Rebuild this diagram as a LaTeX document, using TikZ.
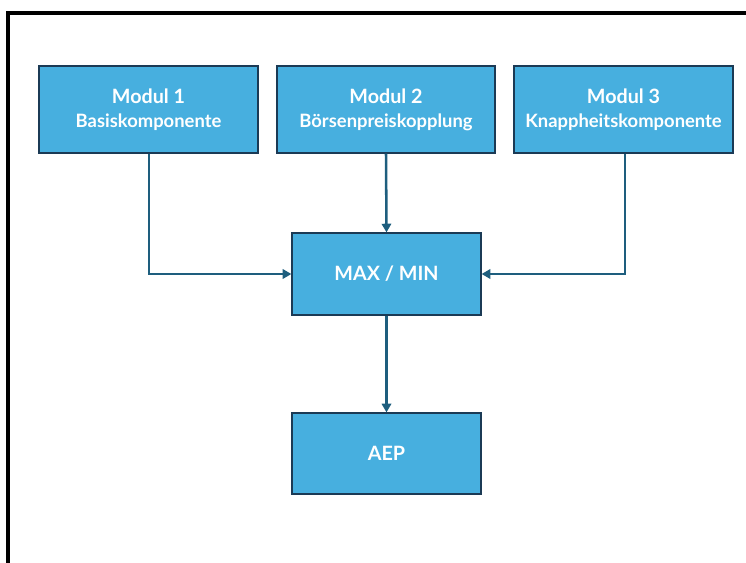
\documentclass[tikz,border=0pt]{standalone}
\usepackage{fontspec}
\setmainfont{Lato}
\usetikzlibrary{arrows.meta}
\definecolor{boxfill}{HTML}{47AFDF}
\definecolor{boxline}{HTML}{1B3A55}
\definecolor{arrowc}{HTML}{1E5E7E}
\tikzset{
  modbox/.style={draw=boxline, line width=0.9pt, fill=boxfill, text=white, font=\bfseries\fontsize{14.8}{17}\selectfont, align=center, inner sep=0pt},
  conn/.style={draw=arrowc, line width=1.9pt, -{Triangle[length=6.5pt,width=7pt]}},
}
\begin{document}
\begin{tikzpicture}[x=0.75pt,y=-0.75pt]
\useasboundingbox (0,0) rectangle (746,563);
\draw[line width=2.4pt, line cap=rect] (8,575) -- (8,13) -- (760,13);
\node[modbox, minimum width=219*0.75pt, minimum height=87*0.75pt] (m1) at (148.5,109.5) {Modul 1\\[1pt]{\fontsize{13.8}{16}\selectfont Basiskomponente}};
\node[modbox, minimum width=218*0.75pt, minimum height=87*0.75pt] (m2) at (386,109.5) {Modul 2\\[1pt]{\fontsize{13.8}{16}\selectfont Börsenpreiskopplung}};
\node[modbox, minimum width=219*0.75pt, minimum height=87*0.75pt] (m3) at (623.5,109.5) {Modul 3\\[1pt]{\fontsize{13.8}{16}\selectfont Knappheitskomponente}};
\node[modbox, minimum width=189*0.75pt, minimum height=82*0.75pt] (mm) at (386.5,274) {MAX / MIN};
\node[modbox, minimum width=189*0.75pt, minimum height=81*0.75pt] (aep) at (386.5,453.5) {AEP};
\draw[conn] (m1.south -| 149,0) |- (mm.west);
\draw[conn] (m3.south -| 625,0) |- (mm.east);
\draw[conn] (m2.south) -- (mm.north);
\draw[conn] (mm.south) -- (aep.north);
\end{tikzpicture}
\end{document}
